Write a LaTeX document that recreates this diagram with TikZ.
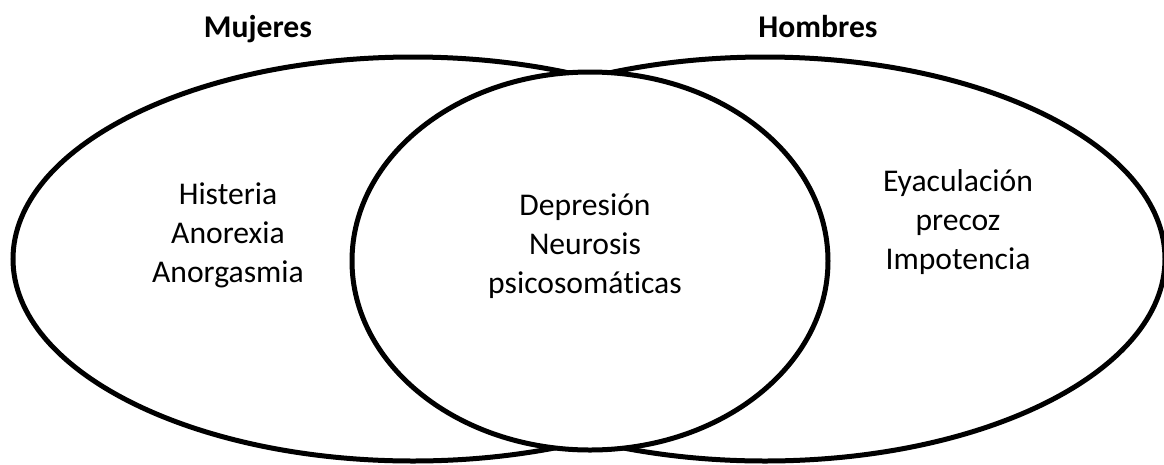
\documentclass[tikz,border=0pt]{standalone}
\usepackage{fontspec}
\setmainfont{Carlito}[Ligatures=NoCommon]

\begin{document}
\begin{tikzpicture}[x=0.02cm,y=-0.02cm,set line/.style={draw=black,line width=0.1cm},set title/.style={anchor=base,font=\fontsize{18}{22.2}\selectfont\bfseries},set items/.style={align=center,font=\fontsize{18}{22.2}\selectfont}]

	\useasboundingbox (0,0) rectangle (1164,464);

	%sets
	\draw[set line] (413,259) ellipse [x radius=400, y radius=202];
	\draw[set line] (765,259) ellipse [x radius=400, y radius=202];
	\draw[set line, fill=white] (590,261) ellipse [x radius=238, y radius=189];

	%titles
	\node[set title] (Mujeres) at (258,37) {Mujeres};
	\node[set title] (Hombres) at (818,37) {Hombres};

	%contents
	\node[set items] (SoloMujeres) at (228,235) {Histeria \\ Anorexia \\ Anorgasmia};
	\node[set items] (Ambos) at (585,246) {Depresión \\ Neurosis \\ psicosomáticas};
	\node[set items] (SoloHombres) at (958,222) {Eyaculación \\ precoz \\ Impotencia};

\end{tikzpicture}
\end{document}
